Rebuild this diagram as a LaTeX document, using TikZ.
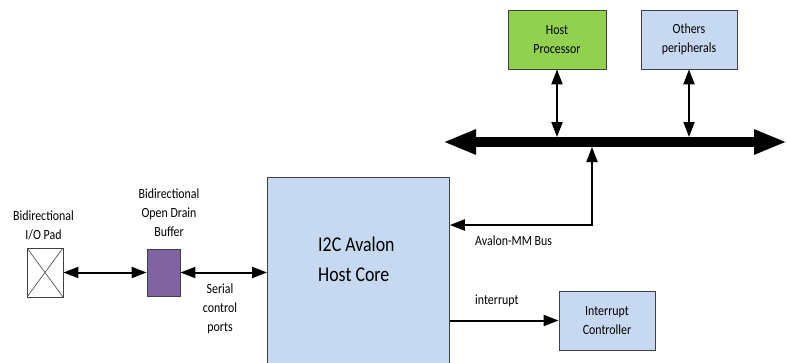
\documentclass[tikz,border=0pt]{standalone}
\usepackage{fontspec}
\setmainfont{Carlito}[FakeStretch=0.85]
\usetikzlibrary{arrows.meta,positioning}
\definecolor{hostgreen}{HTML}{92D050}
\definecolor{coreblue}{HTML}{C6D9F1}
\definecolor{bufpurple}{HTML}{8064A2}
\definecolor{edgegray}{HTML}{404040}

\begin{document}
\begin{tikzpicture}[
  x=1pt, y=-1pt,
  blk/.style={rectangle, draw=edgegray, line width=0.8pt, inner sep=0pt, align=center,
              font=\fontsize{14}{19}\selectfont},
  lbl/.style={align=center, inner sep=0pt, font=\fontsize{14}{19}\selectfont},
  arr/.style={{Triangle[length=15pt,width=11pt]}-{Triangle[length=15pt,width=11pt]}, line width=2pt},
  onearr/.style={-{Triangle[length=15pt,width=11pt]}, line width=2pt},
  bus/.style={{Triangle[length=33pt,width=23pt]}-{Triangle[length=33pt,width=23pt]}, line width=10pt},
]
\useasboundingbox (0,0) rectangle (787,362);

% top row: processor and peripherals on the bus
\node[blk, fill=hostgreen, minimum width=98pt, minimum height=59pt] (hostp) at (557,39.5) {Host\\Processor};
\node[blk, fill=coreblue, minimum width=96pt, minimum height=59pt] (periph) at (689,39.5) {Others\\peripherals};

\coordinate (busL) at (443,142);
\coordinate (busR) at (787,142);
\coordinate (bhost) at (557,137);
\coordinate (bperiph) at (689,137);
\coordinate (bcore) at (592,147);
\draw[bus] (busL) -- (busR);

% core and its neighbours
\node[blk, fill=coreblue, minimum width=182pt, minimum height=200pt, anchor=north west] (core) at (267,177) {};
\node[align=left, anchor=west, inner sep=0pt, font=\fontsize{21}{30}\selectfont] (coretxt) at (318,259.5) {I2C Avalon\\Host Core};

\node[blk, fill=coreblue, minimum width=96pt, minimum height=59pt] (intc) at (607,320.5) {Interrupt\\Controller};

\node[blk, fill=white, minimum width=36pt, minimum height=49pt,
      path picture={\draw[edgegray, line width=0.6pt]
        (path picture bounding box.north west) -- (path picture bounding box.south east)
        (path picture bounding box.north east) -- (path picture bounding box.south west);}] (pad) at (45,272.5) {};
\node[blk, fill=bufpurple, minimum width=33pt, minimum height=47pt] (buf) at (163.5,272.5) {};

% labels
\node[lbl] (padlbl) at (43.5,225) {Bidirectional\\I/O Pad};
\node[lbl] (buflbl) at (169,212.5) {Bidirectional\\Open Drain\\Buffer};
\node[lbl] (serlbl) at (220,308.5) {Serial\\control\\ports};
\node[lbl, anchor=west] (avlbl) at (475,241) {Avalon-MM Bus};
\node[lbl, anchor=west] (intlbl) at (475,301) {interrupt};

% connectors
\draw[arr] (hostp.south) -- (bhost);
\draw[arr] (periph.south) -- (bperiph);
\draw[arr] (core.east |- 0,225) -| (bcore);
\draw[onearr] (core.east |- intc.west) -- (intc.west);
\draw[arr] (pad.east) -- (buf.west);
\draw[arr] (buf.east) -- (core.west |- buf.east);
\end{tikzpicture}
\end{document}
